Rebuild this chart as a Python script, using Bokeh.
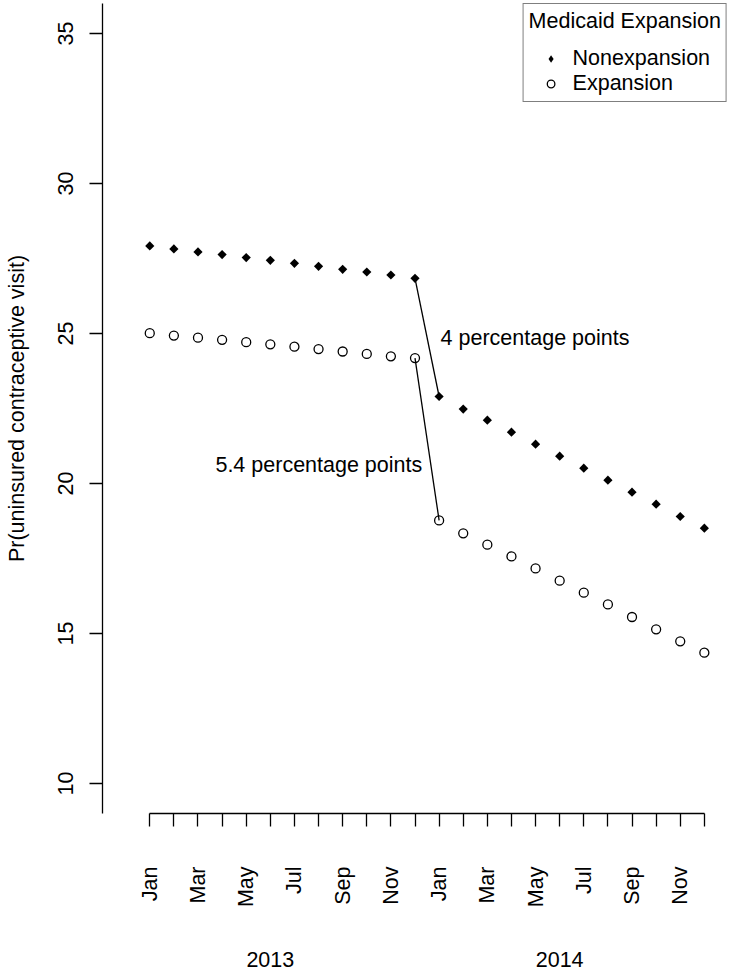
import math
from bokeh.plotting import figure
from bokeh.models import Range1d, FixedTicker, Legend, LegendItem, Label, LinearAxis
from bokeh.embed import file_html
from bokeh.resources import INLINE

# ---- data ----
month_index = list(range(1, 25))  # Jan 2013 ... Dec 2014
month_names = ["Jan", "Feb", "Mar", "Apr", "May", "Jun",
               "Jul", "Aug", "Sep", "Oct", "Nov", "Dec"] * 2
years = ["2013", "2014"]
year_positions = [6, 18]
y_ticks = [10, 15, 20, 25, 30, 35]

nonexpansion = [27.92, 27.82, 27.72, 27.63, 27.53, 27.44, 27.34, 27.24, 27.14, 27.05, 26.95, 26.84,
                22.90, 22.48, 22.11, 21.71, 21.31, 20.91, 20.51, 20.11, 19.71, 19.31, 18.90, 18.51]
expansion = [25.01, 24.93, 24.86, 24.79, 24.71, 24.64, 24.56, 24.48, 24.40, 24.32, 24.24, 24.18,
             18.77, 18.34, 17.96, 17.57, 17.17, 16.76, 16.36, 15.97, 15.55, 15.14, 14.74, 14.36]

nonexp_label = "Nonexpansion"
exp_label = "Expansion"
legend_title = "Medicaid Expansion"
y_title = "Pr(uninsured contraceptive visit)"
drop_labels = ["4 percentage points", "5.4 percentage points"]

FONT = "Liberation Sans"
FS = "21.5px"

p = figure(width=730, height=973,
           x_range=Range1d(-0.96, 24.96), y_range=Range1d(9, 36),
           output_backend="svg", toolbar_location=None,
           min_border_left=102, min_border_right=3, min_border_top=3, min_border_bottom=160)
p.grid.visible = False
p.outline_line_color = None
p.background_fill_color = "white"
p.border_fill_color = "white"

# x axis: months (every tick, every other label)
xa = p.xaxis[0]
xa.ticker = FixedTicker(ticks=month_index, minor_ticks=[])
xa.bounds = (1, 24)
xa.major_label_overrides = {i: (month_names[i - 1] if i % 2 == 1 else "") for i in month_index}
xa.major_label_orientation = math.pi / 2
xa.major_label_standoff = 40
xa.major_label_text_font = FONT
xa.major_label_text_font_size = FS
xa.major_label_text_color = "black"
xa.major_tick_out = 13
xa.major_tick_in = 0
xa.axis_line_width = 1.3
xa.major_tick_line_width = 1.3
xa.axis_line_color = "black"
xa.major_tick_line_color = "black"

# second x axis: years
year_axis = LinearAxis(ticker=FixedTicker(ticks=year_positions, minor_ticks=[]),
                       major_label_overrides={pos: lab for pos, lab in zip(year_positions, years)},
                       axis_line_color=None, major_tick_line_color=None,
                       major_tick_out=0, major_tick_in=0, major_label_standoff=41,
                       major_label_text_font=FONT, major_label_text_font_size=FS,
                       major_label_text_color="black")
p.add_layout(year_axis, "below")

# y axis
ya = p.yaxis[0]
ya.ticker = FixedTicker(ticks=y_ticks, minor_ticks=[])
ya.major_label_orientation = "vertical"
ya.major_tick_out = 13
ya.major_tick_in = 0
ya.major_label_standoff = 17
ya.axis_line_width = 1.3
ya.major_tick_line_width = 1.3
ya.axis_line_color = "black"
ya.major_tick_line_color = "black"
ya.major_label_text_font = FONT
ya.major_label_text_font_size = FS
ya.major_label_text_color = "black"
ya.axis_label = y_title
ya.axis_label_text_font = FONT
ya.axis_label_text_font_size = FS
ya.axis_label_text_font_style = "normal"
ya.axis_label_text_color = "black"
ya.axis_label_standoff = 26

# drop segments
p.segment(x0=[month_index[11], month_index[11]], y0=[nonexpansion[11], expansion[11]],
          x1=[month_index[12], month_index[12]], y1=[nonexpansion[12], expansion[12]],
          line_color="black", line_width=1.3)

r1 = p.scatter(month_index, nonexpansion, marker="square", angle=math.pi / 4, size=6.5,
               fill_color="black", line_color=None)
r2 = p.scatter(month_index, expansion, marker="circle", size=9,
               fill_color=None, line_color="black", line_width=1.3)
# legend proxy (diamond shape for the legend key)
r1_key = p.scatter(month_index[:1], nonexpansion[:1], marker="diamond", size=9,
                   fill_color="black", line_color=None, visible=False)

legend = Legend(items=[LegendItem(label=nonexp_label, renderers=[r1_key]),
                       LegendItem(label=exp_label, renderers=[r2])],
                title=legend_title, location="top_right", margin=0, padding=5,
                spacing=0, glyph_width=44, glyph_height=19, label_standoff=-3,
                title_standoff=12, border_line_color="black", border_line_width=1.3,
                background_fill_color="white", background_fill_alpha=1.0)
legend.label_text_font = FONT
legend.label_text_font_size = FS
legend.label_text_color = "black"
legend.title_text_font = FONT
legend.title_text_font_size = FS
legend.title_text_font_style = "normal"
legend.title_text_color = "black"
p.add_layout(legend)

p.add_layout(Label(x=month_index[12], y=24.84, x_offset=1.5, text=drop_labels[0],
                   text_align="left", text_baseline="middle",
                   text_font=FONT, text_font_size=FS, text_color="black"))
p.add_layout(Label(x=12.30, y=20.627, text=drop_labels[1],
                   text_align="right", text_baseline="middle",
                   text_font=FONT, text_font_size=FS, text_color="black"))

open("out.html", "w").write(file_html(p, INLINE))
